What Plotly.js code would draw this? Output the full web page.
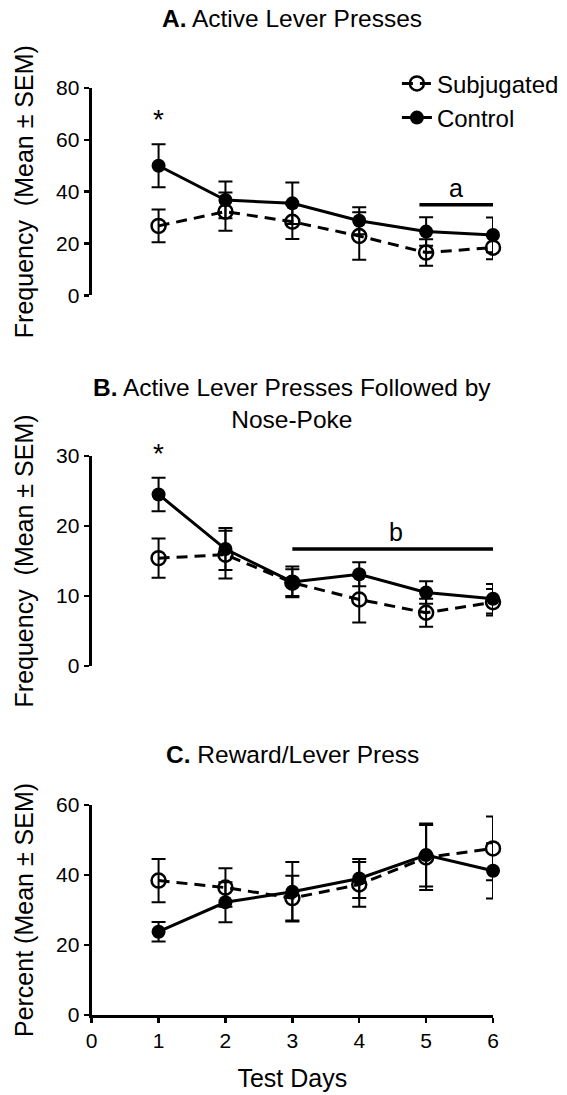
<!DOCTYPE html>
<html>
<head>
<meta charset="utf-8">
<script src="https://cdn.plot.ly/plotly-3.0.1.min.js"></script>
<style>
  html, body { margin: 0; padding: 0; background: #ffffff; }
  #chart { width: 567px; height: 1095px; }
</style>
</head>
<body>
<div id="chart"></div>
<script>
// Test days shared by all three panels
const days = [1, 2, 3, 4, 5, 6];
const xTickVals = [0, 1, 2, 3, 4, 5, 6];

// A. Active lever presses (mean and SEM)
const aSubjMean = [26.8, 32.3, 28.4, 22.9, 16.5, 18.4];
const aSubjSem  = [6.3, 7.4, 6.7, 9.2, 5.1, 4.5];
const aCtrlMean = [50.0, 36.8, 35.5, 28.8, 24.6, 23.3];
const aCtrlSem  = [8.3, 7.1, 8.0, 5.2, 5.5, 6.7];
const aRange = [0, 80];

// B. Active lever presses followed by nose-poke
const bSubjMean = [15.4, 15.9, 11.9, 9.5, 7.6, 9.1];
const bSubjSem  = [2.8, 3.4, 1.9, 3.3, 2.0, 1.9];
const bCtrlMean = [24.5, 16.7, 12.0, 13.1, 10.5, 9.6];
const bCtrlSem  = [2.4, 3.0, 2.2, 1.7, 1.6, 2.1];
const bRange = [0, 30];

// C. Reward / lever press (percent)
const cSubjMean = [38.4, 36.4, 33.4, 37.3, 45.0, 47.6];
const cSubjSem  = [6.2, 5.5, 6.4, 6.4, 9.3, 9.1];
const cCtrlMean = [23.8, 32.2, 35.2, 39.0, 45.7, 41.2];
const cCtrlSem  = [2.8, 5.7, 8.5, 5.6, 9.0, 7.9];
const cRange = [0, 60];

// Significance markers
const starDay = 1;
const starYA = 68;
const starYB = 30.4;
const barAX = [4.9, 6.05];   const barAY = 35;   const labelAX = 5.45; const labelAY = 41.5; const labelA = 'a';
const barBX = [3.0, 6.1];    const barBY = 16.7; const labelBX = 4.55; const labelBY = 19.2; const labelB = 'b';

const FONT = 'Liberation Sans, Arial, Helvetica, sans-serif';
const INK = '#000000';

function subjTrace(mean, sem, xa, ya, showLegend) {
  return {
    x: days, y: mean, xaxis: xa, yaxis: ya,
    name: 'Subjugated', showlegend: showLegend,
    type: 'scatter', mode: 'lines+markers', cliponaxis: false,
    line: { color: INK, width: 3, dash: '11px,7px' },
    marker: { symbol: 'circle-open', size: 14, color: INK, line: { color: INK, width: 2.5 } },
    error_y: { type: 'data', array: sem, visible: true, color: INK, thickness: 2, width: 7 }
  };
}
function ctrlTrace(mean, sem, xa, ya, showLegend) {
  return {
    x: days, y: mean, xaxis: xa, yaxis: ya,
    name: 'Control', showlegend: showLegend,
    type: 'scatter', mode: 'lines+markers', cliponaxis: false,
    line: { color: INK, width: 3 },
    marker: { symbol: 'circle', size: 14, color: INK },
    error_y: { type: 'data', array: sem, visible: true, color: INK, thickness: 2, width: 7 }
  };
}

const data = [
  subjTrace(aSubjMean, aSubjSem, 'x', 'y', true),
  ctrlTrace(aCtrlMean, aCtrlSem, 'x', 'y', true),
  subjTrace(bSubjMean, bSubjSem, 'x2', 'y2', false),
  ctrlTrace(bCtrlMean, bCtrlSem, 'x2', 'y2', false),
  subjTrace(cSubjMean, cSubjSem, 'x3', 'y3', false),
  ctrlTrace(cCtrlMean, cCtrlSem, 'x3', 'y3', false)
];

const xDomain = [0.1617, 0.8695];

function hiddenX(anchor) {
  return { domain: xDomain, range: [0, 6], anchor: anchor, visible: false, fixedrange: true };
}
function yAxis(domain, range, dtick, anchor, title) {
  return {
    domain: domain, range: range, anchor: anchor, dtick: dtick, tick0: 0,
    showline: true, linecolor: INK, linewidth: 3,
    ticks: 'outside', ticklen: 5, tickwidth: 2.5, tickcolor: INK,
    showgrid: false, zeroline: false, fixedrange: true,
    tickfont: { family: FONT, size: 21, color: INK },
    title: { text: title, font: { family: FONT, size: 25, color: INK }, standoff: 16 }
  };
}

const layout = {
  width: 567, height: 1095,
  margin: { l: 0, r: 0, t: 0, b: 0 },
  paper_bgcolor: '#ffffff', plot_bgcolor: '#ffffff',
  font: { family: FONT, color: INK },
  hovermode: false,
  showlegend: true,
  legend: {
    x: 0.700, y: 0.944, xanchor: 'left', yanchor: 'top',
    traceorder: 'normal', tracegroupgap: 0,
    bgcolor: 'rgba(0,0,0,0)', borderwidth: 0,
    font: { family: FONT, size: 24, color: INK }
  },
  xaxis: hiddenX('y'),
  yaxis: yAxis([0.7303, 0.9196], aRange, 20, 'x', 'Frequency  (Mean ± SEM)'),
  xaxis2: hiddenX('y2'),
  yaxis2: yAxis([0.3918, 0.5836], bRange, 10, 'x2', 'Frequency  (Mean ± SEM)'),
  xaxis3: {
    domain: xDomain, range: [0, 6], anchor: 'y3',
    tickvals: xTickVals,
    showline: true, linecolor: INK, linewidth: 3,
    ticks: 'outside', ticklen: 5, tickwidth: 2.5, tickcolor: INK,
    showgrid: false, zeroline: false, fixedrange: true,
    tickfont: { family: FONT, size: 21, color: INK },
    title: { text: 'Test Days', font: { family: FONT, size: 25, color: INK }, standoff: 19 }
  },
  yaxis3: yAxis([0.0731, 0.2648], cRange, 20, 'x3', 'Percent (Mean ± SEM)'),
  shapes: [
    { type: 'line', xref: 'x', yref: 'y', x0: barAX[0], x1: barAX[1], y0: barAY, y1: barAY,
      line: { color: INK, width: 3.5 } },
    { type: 'line', xref: 'x2', yref: 'y2', x0: barBX[0], x1: barBX[1], y0: barBY, y1: barBY,
      line: { color: INK, width: 3.5 } }
  ],
  annotations: [
    { xref: 'x domain', yref: 'paper', x: 0.5, y: 1 - 19 / 1095, yanchor: 'middle', showarrow: false,
      text: '<b>A.</b> Active Lever Presses', font: { family: FONT, size: 24.5, color: INK } },
    { xref: 'x2 domain', yref: 'paper', x: 0.5, y: 1 - 403 / 1095, yanchor: 'middle', showarrow: false,
      text: '<b>B.</b> Active Lever Presses Followed by<br>Nose-Poke', font: { family: FONT, size: 24.5, color: INK } },
    { xref: 'x3 domain', yref: 'paper', x: 0.5, y: 1 - 754 / 1095, yanchor: 'middle', showarrow: false,
      text: '<b>C.</b> Reward/Lever Press', font: { family: FONT, size: 24.5, color: INK } },
    // stars can sit above the top of their axes, so they are placed in axis-domain units
    { xref: 'x', yref: 'y domain', x: starDay, y: starYA / aRange[1], yanchor: 'middle', showarrow: false,
      text: '*', font: { family: FONT, size: 28, color: INK } },
    { xref: 'x2', yref: 'y2 domain', x: starDay, y: starYB / bRange[1], yanchor: 'middle', showarrow: false,
      text: '*', font: { family: FONT, size: 28, color: INK } },
    { xref: 'x', yref: 'y', x: labelAX, y: labelAY, showarrow: false, text: labelA,
      font: { family: FONT, size: 25, color: INK } },
    { xref: 'x2', yref: 'y2', x: labelBX, y: labelBY, showarrow: false, text: labelB,
      font: { family: FONT, size: 25, color: INK } }
  ]
};

Plotly.newPlot('chart', data, layout, { staticPlot: true, displayModeBar: false });
</script>
</body>
</html>
